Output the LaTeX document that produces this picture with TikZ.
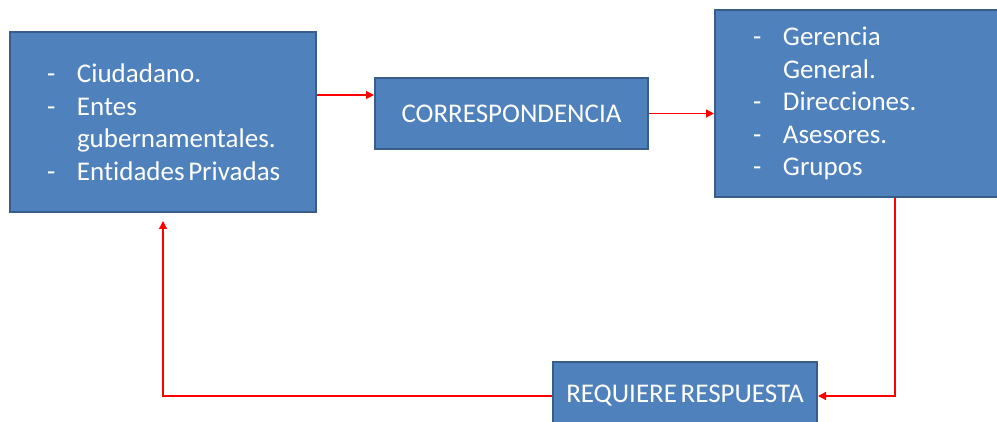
\documentclass[tikz,border=0pt]{standalone}
\usepackage{fontspec}
\setmainfont{Carlito}[Ligatures=NoCommon, WordSpace=0.6]
\usetikzlibrary{arrows.meta, positioning}
\definecolor{cajaazul}{HTML}{4F81BD}
\definecolor{bordeazul}{HTML}{385D8A}
\tikzset{
  caja/.style={rectangle, draw=bordeazul, line width=2pt, fill=cajaazul, text=white,
    font=\fontsize{27}{32.5}\selectfont},
  flecha/.style={-{Triangle[length=8pt,width=8pt]}, red, line width=1.3pt},
}
\newcommand{\guion}[1]{\mbox{\spaceskip=0pt\xspaceskip=0pt\makebox[30pt][l]{-}#1}}
\newcommand{\sigue}[1]{\mbox{\hspace*{30pt}#1}}

\begin{document}
\begin{tikzpicture}[x=1pt, y=-1pt]
    \useasboundingbox (0,0) rectangle (997,422);
    \node[caja, minimum width=306pt, minimum height=180pt, text width=232pt, inner xsep=37pt, align=left] (origen) at (163,122)
      {\guion{Ciudadano.}\\ \guion{Entes}\\ \sigue{gubernamentales.}\\ \guion{Entidades Privadas}};
    \node[caja, minimum width=273pt, minimum height=71pt] (corresp) at (511.5,113.5) {CORRESPONDENCIA};
    \node[caja, minimum width=290pt, minimum height=187pt, text width=214pt, inner xsep=38pt, align=left] (destino) at (860,103.5)
      {\guion{Gerencia}\\ \sigue{General.}\\ \guion{Direcciones.}\\ \guion{Asesores.}\\ \guion{Grupos}};
    \node[caja, minimum width=264pt, minimum height=68pt] (respuesta) at (685,396) {REQUIERE RESPUESTA};
    \draw[flecha] ([yshift=27pt]origen.east) -- ([yshift=27pt]origen.east -| corresp.west);
    \draw[flecha] (corresp.east) -- (corresp.east -| destino.west);
    \draw[flecha] ([xshift=35pt]destino.south) |- (respuesta.east);
    \draw[flecha] (respuesta.west) -| ([yshift=-8pt]origen.south);
  \end{tikzpicture}
\end{document}
